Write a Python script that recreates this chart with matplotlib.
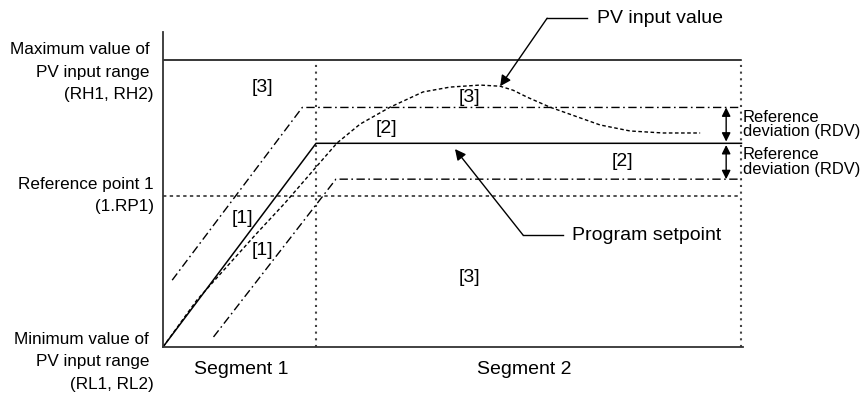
import matplotlib
matplotlib.use("Agg")
import matplotlib.pyplot as plt

plt.rcParams['font.family'] = ['Liberation Sans', 'DejaVu Sans']

# ---- data (time in segment units, PV in % of range) ----
range_max = 100.0
range_min = 0.0
ref_point = 52.6
seg_end = [1.0, 3.78]
sp_x = [0.0, 1.0, 3.78]
sp_y = [0.0, 71.0, 71.0]
rdv = 12.5
upper_x = [0.06, 0.91, 3.78]
upper_y = [23.3, 83.5, 83.5]
lower_x = [0.33, 1.13, 3.78]
lower_y = [3.5, 58.5, 58.5]
pv_x = [0.0, 0.222, 0.614, 0.797, 1.0, 1.137, 1.288, 1.484, 1.699, 1.876,
        2.072, 2.203, 2.288, 2.379, 2.529, 2.856, 3.052, 3.268, 3.51]
pv_y = [0.0, 16.4, 39.7, 50.2, 62.7, 71.1, 77.7, 83.6, 88.9, 90.6,
        91.3, 90.9, 89.5, 87.1, 83.6, 77.4, 75.3, 74.6, 74.6]
segment_labels = ["Segment 1", "Segment 2"]
segment_label_x = [0.51, 2.36]
zone_labels = ["[3]", "[3]", "[2]", "[2]", "[1]", "[1]", "[3]"]
zone_x = [0.65, 2.0, 1.457, 3.0, 0.516, 0.647, 2.0]
zone_y = [90.6, 86.8, 76.0, 64.8, 44.9, 33.8, 24.4]

W, H = 862, 399
fig = plt.figure(figsize=(W / 100, H / 100), dpi=100)
L, R, T, B = 163, 743, 32, 347
ax = fig.add_axes([L / W, (H - B) / H, (R - L) / W, (B - T) / H])
ax.set_xlim(0, 3.79)
ax.set_ylim(0, 109.8)
for s in ['top', 'right']:
    ax.spines[s].set_visible(False)
for s in ['left', 'bottom']:
    ax.spines[s].set_color('#333333')
    ax.spines[s].set_linewidth(1.3)
ax.set_xticks([])
ax.set_yticks([])

k = 'black'
fs = 14
fs_side = 12.3
fs_rdv = 11.9
xr = seg_end[-1]

# max line
ax.plot([0, xr], [range_max, range_max], color=k, lw=1.1)
# reference point line
ax.plot([0, xr], [ref_point, ref_point], color='#222222', lw=1.1, ls=(0, (2.2, 2.2)))
# segment boundaries
for xs in seg_end:
    ax.plot([xs, xs], [range_min, range_max], color='#444444', lw=1.5, ls=(0, (1, 2.2)))
# setpoint
ax.plot(sp_x, sp_y, color=k, lw=1.1)
# deviation bands
dd = (0, (6, 2.5, 1.2, 2.5))
ax.plot(upper_x, upper_y, color=k, lw=1.0, ls=dd)
ax.plot(lower_x, lower_y, color=k, lw=1.0, ls=dd)
# PV input
ax.plot(pv_x, pv_y, color=k, lw=1.0, ls=(0, (2.6, 1.8)))

# zone labels
for t, x, y in zip(zone_labels, zone_x, zone_y):
    ax.text(x, y, t, ha='center', va='center', fontsize=fs)

# segment labels
for t, x in zip(segment_labels, segment_label_x):
    ax.text(x, -8.0, t, ha='center', va='center', fontsize=fs, clip_on=False)

# y-side labels (right-aligned lines, upper lines indented by a trailing space)
lx = -0.059
ax.text(lx, 95.8, "Maximum value of \nPV input range \n(RH1, RH2)", ha='right', va='center',
        multialignment='right', fontsize=fs_side, linespacing=1.62, clip_on=False)
ax.text(lx, 52.8, "Reference point 1\n(1.RP1)", ha='right', va='center',
        multialignment='right', fontsize=fs_side, linespacing=1.62, clip_on=False)
ax.text(lx, -5.2, "Minimum value of \nPV input range \n(RL1, RL2)", ha='right', va='center',
        multialignment='right', fontsize=fs_side, linespacing=1.62, clip_on=False)

# PV input value callout
ax.plot([2.51, 2.771], [114.6, 114.6], color=k, lw=1.0, clip_on=False)
ax.annotate("", xy=(2.203, 90.9), xytext=(2.51, 114.6),
            arrowprops=dict(arrowstyle='-|>', color=k, lw=1.0, mutation_scale=16,
                            shrinkA=0, shrinkB=0), annotation_clip=False)
ax.text(2.837, 114.6, "PV input value", ha='left', va='center', fontsize=fs, clip_on=False)

# Program setpoint callout
ax.plot([2.353, 2.614], [39.0, 39.0], color=k, lw=1.0)
ax.annotate("", xy=(1.908, 69.0), xytext=(2.353, 39.0),
            arrowprops=dict(arrowstyle='-|>', color=k, lw=1.0, mutation_scale=16,
                            shrinkA=0, shrinkB=0))
ax.text(2.673, 39.0, "Program setpoint", ha='left', va='center', fontsize=fs)

# RDV arrows
ax_x = 3.68
for y0, y1 in [(sp_y[-1] + rdv, sp_y[-1] + 0.6), (sp_y[-1] - 0.6, sp_y[-1] - rdv)]:
    ax.annotate("", xy=(ax_x, y0), xytext=(ax_x, y1),
                arrowprops=dict(arrowstyle='<|-|>', color=k, lw=1.0, mutation_scale=13,
                                shrinkA=0, shrinkB=0))
    ax.text(3.79, (y0 + y1) / 2, "Reference\ndeviation (RDV)", ha='left', va='center',
            fontsize=fs_rdv, linespacing=0.95, clip_on=False)

fig.savefig("out.png", dpi=100)
